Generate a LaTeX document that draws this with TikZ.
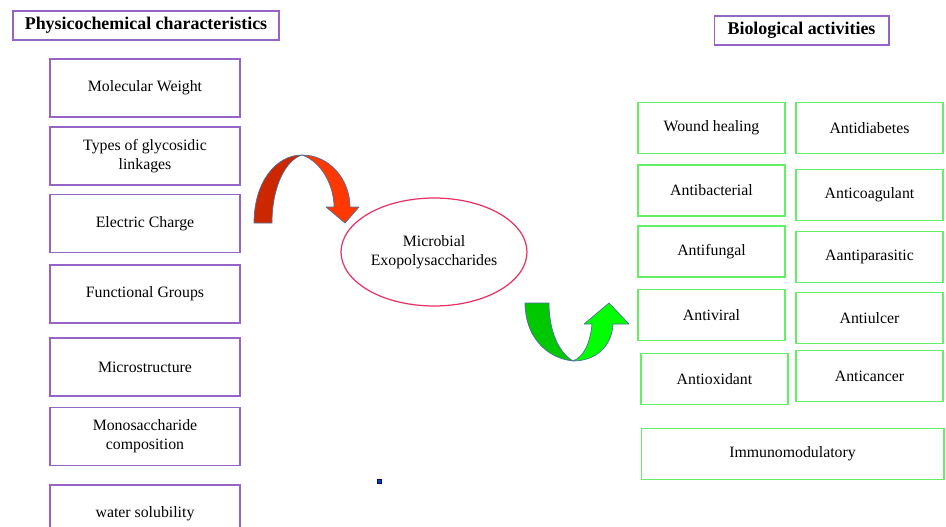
\documentclass[tikz,border=0pt]{standalone}
\usepackage{fontspec}
\setmainfont{Liberation Serif}
\usetikzlibrary{shapes.geometric}
\definecolor{physline}{RGB}{150,100,200}
\definecolor{bioline}{RGB}{100,240,100}
\definecolor{eline}{RGB}{232,50,100}
\definecolor{arrline}{RGB}{80,110,160}
\definecolor{reddark}{RGB}{204,40,0}
\definecolor{redlight}{RGB}{255,55,0}
\definecolor{greendark}{RGB}{0,200,0}
\definecolor{greenlight}{RGB}{0,255,0}
\tikzset{
  every node/.style={font=\fontsize{9}{10.8}\selectfont},
  headbox/.style={draw=physline, line width=0.6pt, minimum height=0.58cm, inner sep=0pt,
    font=\fontsize{10.2}{12}\selectfont\bfseries},
  physbox/.style={draw=physline, line width=0.6pt, minimum width=3.8cm, minimum height=1.16cm,
    align=center, inner sep=0pt},
  biobox/.style={draw=bioline, line width=0.6pt, minimum width=2.94cm, minimum height=1.02cm,
    align=center, inner sep=0pt},
  arrowpart/.style={draw=arrline, line width=0.4pt, line join=round}
}
\begin{document}
\begin{tikzpicture}[x=0.02cm, y=-0.02cm]
    \clip (0,0) rectangle (946,527);

    % Headings
    \node[headbox, minimum width=5.32cm] (physhead) at (146,25.5) {Physicochemical characteristics};
    \node[headbox, minimum width=3.5cm] (biohead) at (801.5,30.5) {Biological activities};

    % Physicochemical boxes
    \foreach \name/\y/\txt in {mw/88/{Molecular Weight}, link/156/{Types of glycosidic\\linkages},
        charge/223.5/{Electric Charge}, func/294/{Functional Groups}, micro/367/{Microstructure},
        mono/436.5/{Monosaccharide\\composition}, sol/514/{water solubility}}
        \node[physbox] (\name) at (145,\y) {\txt};

    % Biological activity boxes
    \foreach \name/\x/\y/\txt in {wound/711.5/128/{Wound healing}, bact/711.5/190.5/{Antibacterial},
        fung/711.5/251.5/{Antifungal}, vir/711.5/315/{Antiviral}, oxi/714.5/379/{Antioxidant},
        diab/869.5/128/{Antidiabetes}, coag/869.5/195/{Anticoagulant},
        para/869.5/257/{Aantiparasitic}, ulcer/869.5/318/{Antiulcer},
        cancer/869.5/376/{Anticancer}}
        \node[biobox] (\name) at (\x,\y) {\txt};
    \node[biobox, minimum width=6.06cm] (immuno) at (792.5,454) {Immunomodulatory};

    % Central ellipse
    \node[ellipse, draw=eline, line width=0.7pt, minimum width=3.72cm, minimum height=2.16cm,
        align=center, inner sep=0pt] (eps) at (434,252) {Microbial\\Exopolysaccharides};

    % Red curved arrow
    \fill[reddark, arrowpart] (254,223) .. controls (254,182) and (276,155) .. (302,155)
        .. controls (286,160) and (272,186) .. (272,223) -- cycle;
    \fill[redlight, arrowpart] (302,155) .. controls (330,155) and (350,180) .. (350,207)
        -- (359,207) -- (345,223) -- (326,207) -- (334,207)
        .. controls (334,186) and (322,162) .. (302,155) -- cycle;

    % Green curved arrow
    \fill[greendark, arrowpart] (525,303) -- (549,303) .. controls (549,330) and (558,352) .. (573,361)
        .. controls (545,358) and (525,335) .. (525,303) -- cycle;
    \fill[greenlight, arrowpart] (573,361) .. controls (596,361) and (612,346) .. (613,324)
        -- (629,324) -- (609,303) -- (584,324) -- (592,324)
        .. controls (590,345) and (583,357) .. (573,361) -- cycle;

    % Small square
    \fill[blue!60!cyan!70!black, draw=blue!50!black, line width=0.2pt] (377.5,479.5) rectangle (381,483);
\end{tikzpicture}
\end{document}
